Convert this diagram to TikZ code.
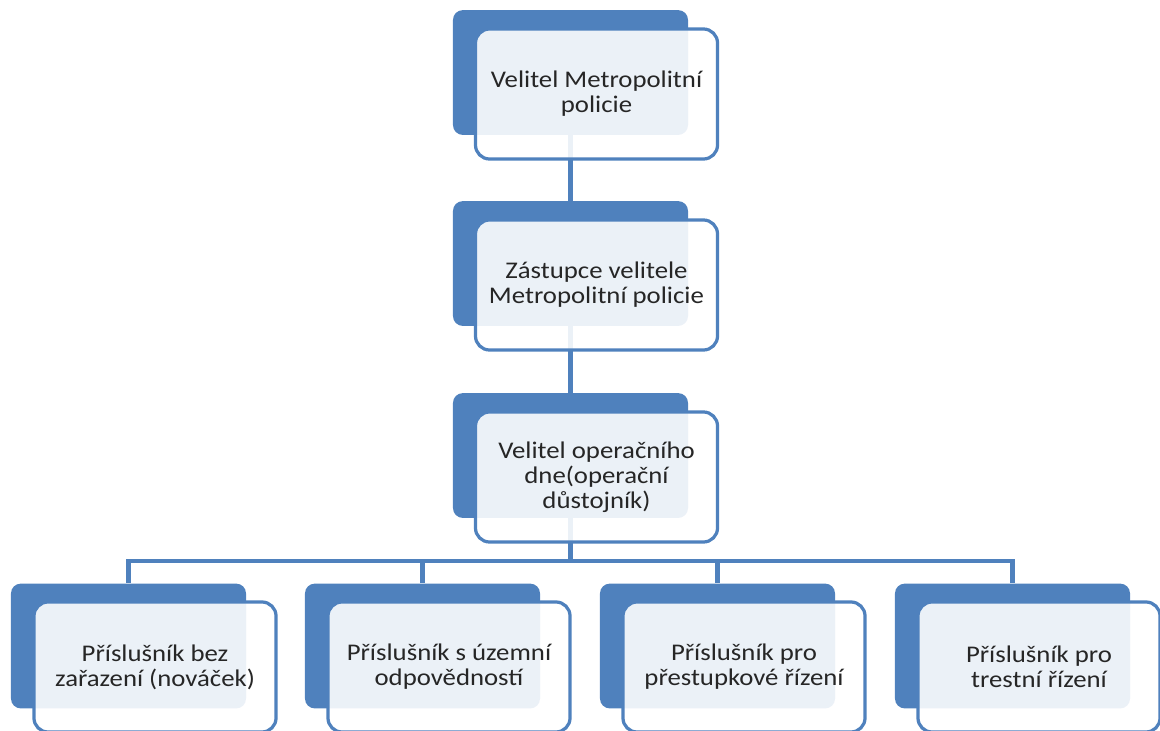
\documentclass[tikz,border=0pt]{standalone}
\usepackage{fontspec}
\setmainfont{Carlito}[FakeStretch=1.12]
\usepackage{tikz}
\usetikzlibrary{positioning}
\definecolor{orgblue}{HTML}{4F81BD}
\definecolor{orgtext}{HTML}{262626}

\begin{document}
\begin{tikzpicture}[x=0.025cm, y=-0.025cm,
    backbox/.style={fill=orgblue, draw=none, rounded corners=7pt,
      minimum width=5.875cm, minimum height=3.12cm},
    frontbox/.style={fill=white, fill opacity=0.89, text opacity=1,
      draw=orgblue, line width=2.3pt, rounded corners=10pt,
      minimum width=6.05cm, minimum height=3.25cm,
      align=center, text=orgtext, font=\fontsize{17}{17.8}\selectfont},
    link/.style={draw=orgblue, line width=3.3pt}]
  \useasboundingbox (0,0) rectangle (1160,731);
  % back boxes
  \node[backbox] (bk1) at (570.5,72.5) {};
  \node[backbox] (bk2) at (570.5,263.5) {};
  \node[backbox] (bk3) at (570.5,455.5) {};
  \foreach \n/\x in {pa/128.5, pb/422.5, pc/717.5, pd/1012.5}
    {
      \node[backbox] (\n) at (\x,646) {};
    }
  % connectors
  \coordinate (bar) at (570.5,561);
  \draw[link] (bk1.south) -- (bk2.north);
  \draw[link] (bk2.south) -- (bk3.north);
  \foreach \n in {pa,pb,pc,pd}
    {
      \draw[link] (bk3.south) |- (bar) -| (\n.north);
    }
  % front boxes
  \node[frontbox] (velitel) at ([shift={(26,21.5)}]bk1) {Velitel Metropolitní\\policie};
  \node[frontbox] (zastupce) at ([shift={(26,21.5)}]bk2) {Zástupce velitele\\Metropolitní policie};
  \node[frontbox] (operacni) at ([shift={(26,21.5)}]bk3) {Velitel operačního\\dne(operační\\důstojník)};
  \node[frontbox] (novacek) at ([shift={(26.5,21)}]pa) {Příslušník bez\\zařazení (nováček)};
  \node[frontbox] (uzemni) at ([shift={(26.5,21)}]pb) {Příslušník s územní\\odpovědností};
  \node[frontbox] (prestupky) at ([shift={(26.5,21)}]pc) {Příslušník pro\\přestupkové řízení};
  \node[frontbox] (trestni) at ([shift={(26.5,21)}]pd) {Příslušník pro\\trestní řízení};
\end{tikzpicture}
\end{document}
